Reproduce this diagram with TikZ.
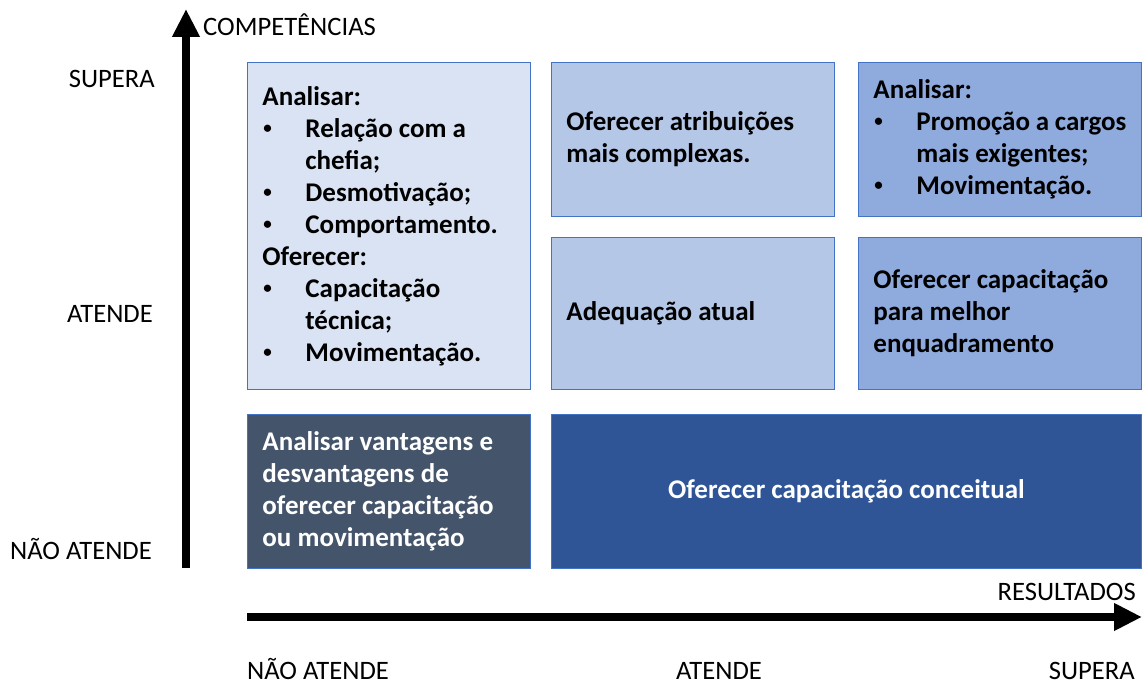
\documentclass[tikz,border=0pt]{standalone}
\usepackage{fontspec}
\setmainfont{Carlito}
\usetikzlibrary{arrows.meta}

\definecolor{caixaclara}{HTML}{DAE3F3}
\definecolor{caixamedia}{HTML}{B4C7E7}
\definecolor{caixaforte}{HTML}{8FAADC}
\definecolor{caixacinza}{HTML}{44546A}
\definecolor{caixaazul}{HTML}{2F5597}
\definecolor{borda}{HTML}{4472C4}

\newcommand{\bul}{\makebox[43pt][l]{\hspace*{1pt}\raisebox{4pt}{\fontsize{17}{17}\selectfont•}}}
\newcommand{\ind}{\hspace*{43pt}}

\begin{document}
\begin{tikzpicture}[x=1pt,y=-1pt,
    caixa/.style={draw=borda, line width=0.9pt, anchor=north west, inner xsep=15pt, inner ysep=0pt,
        text width=253pt, minimum width=283pt, minimum height=154pt, align=flush left,
        font=\fontsize{27}{32}\selectfont\bfseries},
    eixo/.style={line width=8pt, -{Triangle[length=28pt,width=26pt]}},
    rotulo/.style={font=\fontsize{26.6}{30}\selectfont, inner sep=0pt}]
    \useasboundingbox (0,0) rectangle (1144,684);

    %eixos
    \coordinate (origemv) at (186,568);
    \coordinate (topov) at (186,9);
    \coordinate (origemh) at (247,617);
    \coordinate (fimh) at (1142,617);
    \draw[eixo] (origemv) -- (topov);
    \draw[eixo] (origemh) -- (fimh);
    \node[rotulo, anchor=base west] (competencias) at (203,36) {COMPETÊNCIAS};
    \node[rotulo, anchor=base east] (resultados) at (1136,600) {RESULTADOS};

    %niveis de competencias
    \node[rotulo, anchor=base east] (csupera) at (155,88) {SUPERA};
    \node[rotulo, anchor=base east] (catende) at (153,323) {ATENDE};
    \node[rotulo, anchor=base east] (cnaoatende) at (152,559) {NÃO ATENDE};

    %niveis de resultados
    \node[rotulo, anchor=base west] (rnaoatende) at (247,679) {NÃO ATENDE};
    \node[rotulo, anchor=base] (ratende) at (719,679) {ATENDE};
    \node[rotulo, anchor=base east] (rsupera) at (1135,679) {SUPERA};

    %nao atende resultados - supera/atende competencias
    \node[caixa, fill=caixaclara, minimum height=327pt] (analisar) at (247,62)
        {Analisar:\\
         \bul Relação com a\\
         \ind chefia;\\
         \bul Desmotivação;\\
         \bul Comportamento.\\
         Oferecer:\\
         \bul Capacitação\\
         \ind técnica;\\
         \bul Movimentação.};

    %atende resultados
    \node[caixa, fill=caixamedia] (atribuicoes) at (551,62)
        {Oferecer atribuições\\ mais complexas.};
    \node[caixa, fill=caixamedia, minimum height=152pt] (adequacao) at (551,237)
        {Adequação atual};

    %supera resultados
    \node[caixa, fill=caixaforte] (promocao) at (858,62)
        {Analisar:\\
         \bul Promoção a cargos\\
         \ind mais exigentes;\\
         \bul Movimentação.};
    \node[caixa, fill=caixaforte, minimum height=152pt] (enquadramento) at (858,237)
        {Oferecer capacitação\\ para melhor\\ enquadramento};

    %nao atende competencias
    \node[caixa, fill=caixacinza, text=white] (vantagens) at (247,414)
        {Analisar vantagens e\\ desvantagens de\\ oferecer capacitação\\ ou movimentação};
    \node[caixa, fill=caixaazul, text=white, text width=560pt, minimum width=590pt, align=flush center] (conceitual) at (551,414)
        {Oferecer capacitação conceitual};
\end{tikzpicture}
\end{document}
